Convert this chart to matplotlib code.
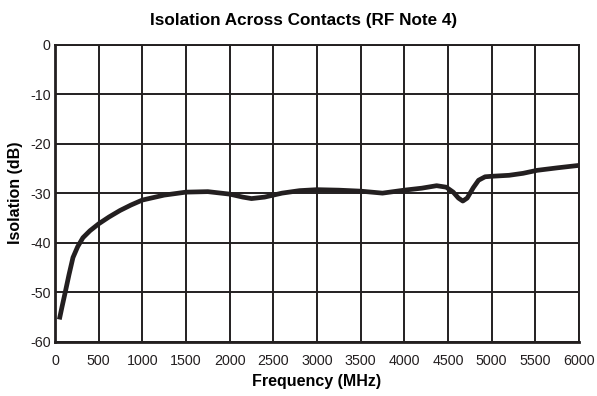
import matplotlib.pyplot as plt
import numpy as np

plt.rcParams['font.family'] = ['Liberation Sans', 'DejaVu Sans']
plt.rcParams['axes.unicode_minus'] = False

freq = [50, 80, 115, 160, 206, 260, 320, 400, 500, 620, 745, 870, 1000, 1250, 1500,
        1750, 2000, 2150, 2250, 2400, 2600, 2800, 3000, 3250, 3500, 3750, 4000,
        4200, 4370, 4480, 4560, 4620, 4670, 4720, 4790, 4850, 4925, 5000, 5200,
        5360, 5520, 5750, 6000]
iso = [-55.5, -53.0, -50.2, -46.5, -43.0, -40.8, -39.0, -37.6, -36.2, -34.8, -33.5,
       -32.4, -31.4, -30.4, -29.8, -29.7, -30.2, -30.8, -31.1, -30.8, -30.0, -29.5,
       -29.3, -29.4, -29.6, -30.0, -29.4, -29.0, -28.5, -28.8, -29.8, -31.0, -31.6,
       -31.0, -28.9, -27.4, -26.7, -26.6, -26.4, -26.0, -25.4, -24.9, -24.4]

xticks = np.arange(0, 6001, 500)
yticks = np.arange(-60, 1, 10)

fig = plt.figure(figsize=(5.97, 3.96), dpi=100)
ax = fig.add_axes([0.0921, 0.137, 0.8777, 0.7506])

ax.plot(freq, iso, color='#231f20', lw=3.4, solid_capstyle='butt', zorder=3)

ax.set_xlim(0, 6000)
ax.set_ylim(-60, 0)
ax.set_xticks(xticks)
ax.set_yticks(yticks)
ax.grid(True, color='#231f20', lw=1.4)
for s in ax.spines.values():
    s.set_color('#231f20')
    s.set_linewidth(1.4)
ax.spines['left'].set_linewidth(2)
ax.spines['bottom'].set_linewidth(2)
ax.tick_params(length=0, labelsize=10.3, colors='#231f20')
ax.tick_params(axis='x', pad=9)
ax.tick_params(axis='y', pad=3)

ax.set_xlabel('Frequency (MHz)', fontsize=11.5, fontweight='bold', labelpad=4)
ax.set_ylabel('Isolation (dB)', fontsize=11.5, fontweight='bold', labelpad=5)
ax.set_title('Isolation Across Contacts (RF Note 4)', fontsize=12.3, fontweight='bold',
             pad=14, x=0.474)

fig.savefig('out.png', dpi=100)
